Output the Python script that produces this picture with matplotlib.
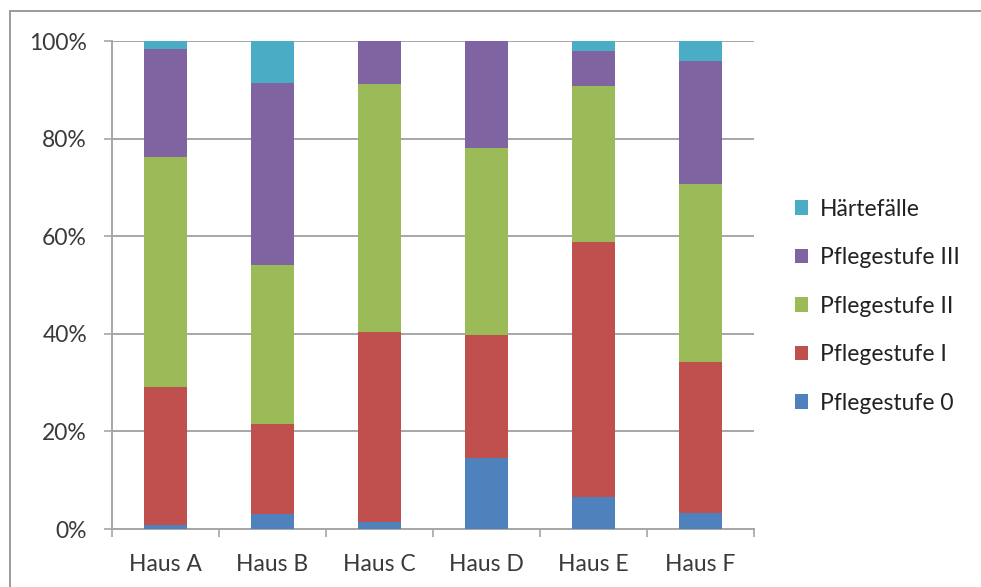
import matplotlib
matplotlib.use("Agg")
import matplotlib.pyplot as plt
from matplotlib.lines import Line2D
from matplotlib.patches import Patch
import numpy as np

plt.rcParams['font.family'] = ['Lato', 'DejaVu Sans']

houses = ["Haus A", "Haus B", "Haus C", "Haus D", "Haus E", "Haus F"]
stufe_0 = [0.8, 3.0, 1.5, 14.6, 6.5, 3.3]
stufe_1 = [28.4, 18.6, 38.9, 25.1, 52.3, 30.9]
stufe_2 = [47.1, 32.6, 50.7, 38.4, 32.0, 36.4]
stufe_3 = [22.1, 37.1, 8.9, 21.9, 7.2, 25.2]
haertefaelle = [1.6, 8.7, 0.0, 0.0, 2.0, 4.2]
y_ticks = [0, 20, 40, 60, 80, 100]

series = [
    ("Pflegestufe 0", stufe_0, "#4F81BD"),
    ("Pflegestufe I", stufe_1, "#C0504D"),
    ("Pflegestufe II", stufe_2, "#9BBB59"),
    ("Pflegestufe III", stufe_3, "#8064A2"),
    ("Härtefälle", haertefaelle, "#4BACC6"),
]

fig = plt.figure(figsize=(9.81, 5.87), dpi=100)
W, H = 981, 587
ax = fig.add_axes([112 / W, 1 - 529 / H, (754 - 112) / W, (529 - 41) / H])

x = np.arange(len(houses))
bottom = np.zeros(len(houses))
for name, vals, color in series:
    vals = np.array(vals, dtype=float)
    ax.bar(x, vals, width=0.41, bottom=bottom, color=color, label=name,
           zorder=3, linewidth=0)
    bottom += vals

grid_col = "#A6A6A6"
text_col = "#3A3A3A"
fs = 16.5
ax.set_xlim(-0.5, len(houses) - 0.5)
ax.set_ylim(0, 100)
ax.set_yticks(y_ticks)
ax.set_yticklabels([f"{v}%" for v in y_ticks])
ax.yaxis.grid(True, color=grid_col, linewidth=1.4, zorder=0)
ax.set_axisbelow(True)

ax.set_xticks(x)
ax.set_xticklabels(houses)
ax.set_xticks(np.arange(len(houses) + 1) - 0.5, minor=True)
ax.tick_params(axis="x", which="major", length=0, pad=18, labelsize=fs, labelcolor=text_col)
ax.tick_params(axis="x", which="minor", length=6, width=1.2, color=grid_col, direction="out")
ax.tick_params(axis="y", length=6, width=1.2, color=grid_col, pad=12,
               labelsize=fs, labelcolor=text_col)

for side in ("top", "right"):
    ax.spines[side].set_visible(False)
for side in ("left", "bottom"):
    ax.spines[side].set_color(grid_col)
    ax.spines[side].set_linewidth(1.4)

handles = [Patch(facecolor=c, edgecolor="none") for _, _, c in series][::-1]
labels = [n for n, _, _ in series][::-1]
fig.legend(handles, labels, loc="upper left",
           bbox_to_anchor=(774 / W, 1 - 178 / H), frameon=False,
           fontsize=fs, handlelength=0.6, handleheight=0.6,
           handletextpad=0.5, labelspacing=1.2, labelcolor="#222222")

# outer chart frame
fig.add_artist(Line2D([10 / W, 10 / W], [0, 1 - 11 / H], color="#9A9A9A", linewidth=1.4))
fig.add_artist(Line2D([10 / W, 1], [1 - 11 / H, 1 - 11 / H], color="#9A9A9A", linewidth=1.4))

fig.savefig("out.png", dpi=100)
